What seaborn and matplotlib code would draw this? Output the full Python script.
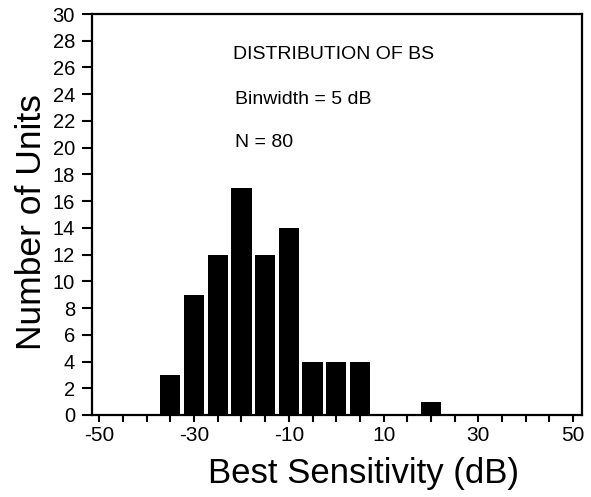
import numpy as np
import pandas as pd
import matplotlib
matplotlib.use("Agg")
import matplotlib.pyplot as plt
import seaborn as sns

# Data
bin_centers = [-35, -30, -25, -20, -15, -10, -5, 0, 5, 20]
unit_counts = [3, 9, 12, 17, 12, 14, 4, 4, 4, 1]
x_major_ticks = [-50, -30, -10, 10, 30, 50]
y_ticks = list(range(0, 31, 2))

sns.set_style("ticks")
plt.rcParams['font.family'] = ['Liberation Sans', 'DejaVu Sans']
plt.rcParams['text.color'] = 'black'
plt.rcParams['axes.labelcolor'] = 'black'
plt.rcParams['xtick.color'] = 'black'
plt.rcParams['ytick.color'] = 'black'

df = pd.DataFrame({"bs": bin_centers, "n": unit_counts})

fig = plt.figure(figsize=(5.91, 4.97), dpi=100)
ax = fig.add_axes([91.7 / 591, 82 / 497, 490 / 591, 401 / 497])

sns.barplot(data=df, x="bs", y="n", native_scale=True, width=0.85,
            color="black", saturation=1, errorbar=None, linewidth=0, ax=ax)

ax.set_xlim(-51.6, 51.8)
ax.set_ylim(0, 30)
ax.set_xticks(x_major_ticks)
ax.set_xticklabels([str(t) for t in x_major_ticks])
ax.set_xticks(np.arange(-50, 51, 5), minor=True)
ax.set_yticks(y_ticks)
ax.set_yticklabels([str(t) for t in y_ticks])

for s in ax.spines.values():
    s.set_visible(True)
    s.set_linewidth(1.6)
    s.set_color("black")

ax.tick_params(axis="x", which="both", direction="out", length=5, width=1.5,
               labelsize=15, pad=3, colors="black")
ax.tick_params(axis="y", which="both", direction="out", length=7, width=1.5,
               labelsize=14.5, pad=5, colors="black")

ax.set_xlabel("Best Sensitivity (dB)", fontsize=25, color="black")
ax.set_ylabel("Number of Units", fontsize=25.5, color="black")
ax.xaxis.set_label_coords(0.554, -0.105)
ax.yaxis.set_label_coords(-0.09, 0.481)

fig.text(233 / 591, 1 - 59 / 497, "DISTRIBUTION OF BS", fontsize=14, va="baseline", color="black")
fig.text(235 / 591, 1 - 104 / 497, "Binwidth = 5 dB", fontsize=14, va="baseline", color="black")
fig.text(235 / 591, 1 - 146.7 / 497, "N = 80", fontsize=14, va="baseline", color="black")

fig.savefig("out.png", dpi=100)
